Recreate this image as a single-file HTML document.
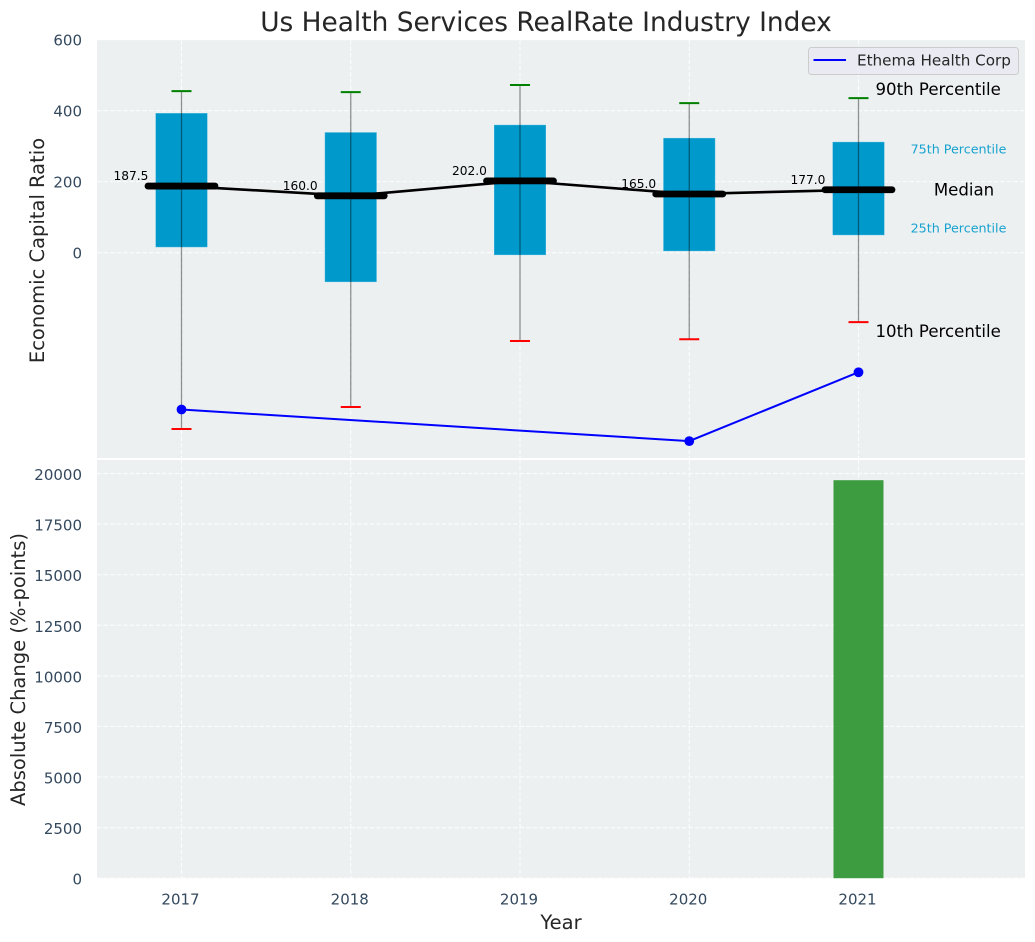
<!DOCTYPE html>
<html lang="en">
<head>
<meta charset="utf-8">
<title>Us Health Services RealRate Industry Index</title>
<style>
html,body{margin:0;padding:0;background:#fff;width:1035px;height:942px;overflow:hidden}
svg{display:block;font-family:"DejaVu Sans","Liberation Sans",sans-serif}
</style>
</head>
<body>
<svg id="chart" xmlns="http://www.w3.org/2000/svg" width="1035" height="942" viewBox="0 0 1035 942">
  <rect x="97" y="40" width="928" height="418" fill="#ecf0f1"/>
  <rect x="97" y="460" width="928" height="418.3" fill="#ecf0f1"/>
  <g id="grid"></g>
  <g id="marks-bottom"></g>
  <g id="marks-top"></g>
  <g id="ticks" fill="#34495e" font-size="15"></g>
  <text x="546" y="31" text-anchor="middle" font-size="26.4" fill="#262626">Us Health Services RealRate Industry Index</text>
  <text transform="translate(44,250.5) rotate(-90)" text-anchor="middle" font-size="19.5" fill="#262626">Economic Capital Ratio</text>
  <text transform="translate(25,669.5) rotate(-90)" text-anchor="middle" font-size="19.5" fill="#262626">Absolute Change (%-points)</text>
  <text x="561" y="929" text-anchor="middle" font-size="19.5" fill="#262626">Year</text>
  <g>
    <rect x="808.5" y="47.5" width="210" height="27" rx="3" fill="#eaeaf2" fill-opacity="0.85" stroke="#cccccc"/>
    <line x1="813.5" y1="60" x2="846" y2="60" stroke="#0000ff" stroke-width="2"/>
    <text x="857" y="65.5" font-size="15.2" fill="#262626">Ethema Health Corp</text>
  </g>
</svg>
<script>
var years = [2017, 2018, 2019, 2020, 2021];
var p90 = [455, 452, 472, 421, 435];
var p75 = [393, 339, 360, 323, 312];
var medians = [187.5, 160, 202, 165, 177];
var p25 = [15, -83, -7, 4, 49];
var p10 = [-497, -435, -249, -244, -196];
var medianLabels = ['187.5', '160.0', '202.0', '165.0', '177.0'];
var companyYears = [2017, 2020, 2021];
var companyValues = [-442, -531, -337];
var absoluteChange = [0, 0, 0, 0, 19669];
var topTicks = [0, 200, 400, 600];
var bottomTicks = [0, 2500, 5000, 7500, 10000, 12500, 15000, 17500, 20000];

var NS = 'http://www.w3.org/2000/svg';
function xScale(y) { return 181.5 + (y - 2017) * 169.25; }
function yTop(v) { return 252.6 - v * 0.355; }
function yBottom(v) { return 878.2 - v * 0.020235; }
function make(parent, tag, props, text) {
  var el = document.createElementNS(NS, tag);
  for (var k in props) { el.setAttribute(k, props[k]); }
  if (text !== undefined) { el.textContent = text; }
  parent.appendChild(el);
  return el;
}
var grid = document.getElementById('grid');
var ticks = document.getElementById('ticks');
var topG = document.getElementById('marks-top');
var botG = document.getElementById('marks-bottom');
var gridStyle = {stroke: '#ffffff', 'stroke-width': 1.2, 'stroke-dasharray': '4.5 2', 'stroke-opacity': 0.75, fill: 'none'};
function gridLine(x1, y1, x2, y2) {
  var props = {x1: x1, y1: y1, x2: x2, y2: y2};
  for (var k in gridStyle) { props[k] = gridStyle[k]; }
  return make(grid, 'line', props);
}

years.forEach(function (yr) {
  var x = xScale(yr);
  var g1 = gridLine(x, 40, x, 458);
  
  
  var g2 = gridLine(x, 460, x, 878);
  
  
  var t = make(ticks, 'text', {x: x - 1, y: 904.5, 'text-anchor': 'middle'}, String(yr));
  
  
});
topTicks.forEach(function (v) {
  var y = yTop(v);
  var g = gridLine(97, y, 1025, y);
  
  
  var t = make(ticks, 'text', {x: 82, y: y + 6, 'text-anchor': 'end'}, String(v));
  
  
});
bottomTicks.forEach(function (v) {
  var y = yBottom(v);
  var g = gridLine(97, y, 1025, y);
  
  
  var t = make(ticks, 'text', {x: 82, y: y + 6.5, 'text-anchor': 'end'}, String(v));
  
  
});

years.forEach(function (yr, i) {
  var x = xScale(yr);
  var top = yBottom(absoluteChange[i]);
  var bar = make(botG, 'rect', {x: x - 25, y: top, width: 50, height: yBottom(0) - top, fill: '#2e9632', 'fill-opacity': 0.93});
  
  
});

years.forEach(function (yr, i) {
  var x = xScale(yr);
  var boxTop = yTop(p75[i]);
  var box = make(topG, 'rect', {x: x - 26, y: boxTop, width: 52, height: yTop(p25[i]) - boxTop, fill: '#0099cc', stroke: '#ffffff', 'stroke-opacity': 0.3, 'stroke-width': 1});
  
  
});

var medianPts = years.map(function (yr, i) { return xScale(yr) + ',' + yTop(medians[i]); }).join(' ');
var medianLine = make(topG, 'polyline', {points: medianPts, fill: 'none', stroke: '#000000', 'stroke-width': 2.6});



years.forEach(function (yr, i) {
  var x = xScale(yr);
  var whisker = make(topG, 'line', {x1: x, y1: yTop(p90[i]), x2: x, y2: yTop(p10[i]), stroke: '#000000', 'stroke-opacity': 0.42, 'stroke-width': 1.3});
  
  
  var capHi = make(topG, 'line', {x1: x - 10, y1: yTop(p90[i]), x2: x + 10, y2: yTop(p90[i]), stroke: '#008000', 'stroke-width': 2});
  
  
  var capLo = make(topG, 'line', {x1: x - 10, y1: yTop(p10[i]), x2: x + 10, y2: yTop(p10[i]), stroke: '#ff0000', 'stroke-width': 2});
  
  
  var med = make(topG, 'line', {x1: x - 33.5, y1: yTop(medians[i]), x2: x + 33.5, y2: yTop(medians[i]), stroke: '#000000', 'stroke-width': 6.8, 'stroke-linecap': 'round'});
  
  
  var lbl = make(topG, 'text', {x: x - 50.5, y: yTop(medians[i]) - 6, 'text-anchor': 'middle', 'font-size': 12.2, fill: '#000000'}, medianLabels[i]);
  
  
});

var companyPts = companyYears.map(function (yr, i) { return xScale(yr) + ',' + yTop(companyValues[i]); }).join(' ');
var companyLine = make(topG, 'polyline', {points: companyPts, fill: 'none', stroke: '#0000ff', 'stroke-width': 2});


companyYears.forEach(function (yr, i) {
  var dot = make(topG, 'circle', {cx: xScale(yr), cy: yTop(companyValues[i]), r: 4.9, fill: '#0000ff'});
  
  
});

var last = years.length - 1;
var lx = xScale(years[last]);
var a90 = make(topG, 'text', {x: lx + 17, y: yTop(p90[last]) - 3, 'font-size': 16.6, fill: '#000000'}, '90th Percentile');


var a10 = make(topG, 'text', {x: lx + 17, y: yTop(p10[last]) + 15, 'font-size': 16.6, fill: '#000000'}, '10th Percentile');


var aMed = make(topG, 'text', {x: lx + 105.5, y: yTop(medians[last]) + 5.5, 'text-anchor': 'middle', 'font-size': 16.6, fill: '#000000'}, 'Median');


var a75 = make(topG, 'text', {x: lx + 100, y: yTop(p75[last]) + 11.5, 'text-anchor': 'middle', 'font-size': 12.7, fill: '#0099cc', 'fill-opacity': 0.9}, '75th Percentile');


var a25 = make(topG, 'text', {x: lx + 100, y: yTop(p25[last]) - 2.5, 'text-anchor': 'middle', 'font-size': 12.7, fill: '#0099cc', 'fill-opacity': 0.9}, '25th Percentile');


</script>
</body>
</html>
